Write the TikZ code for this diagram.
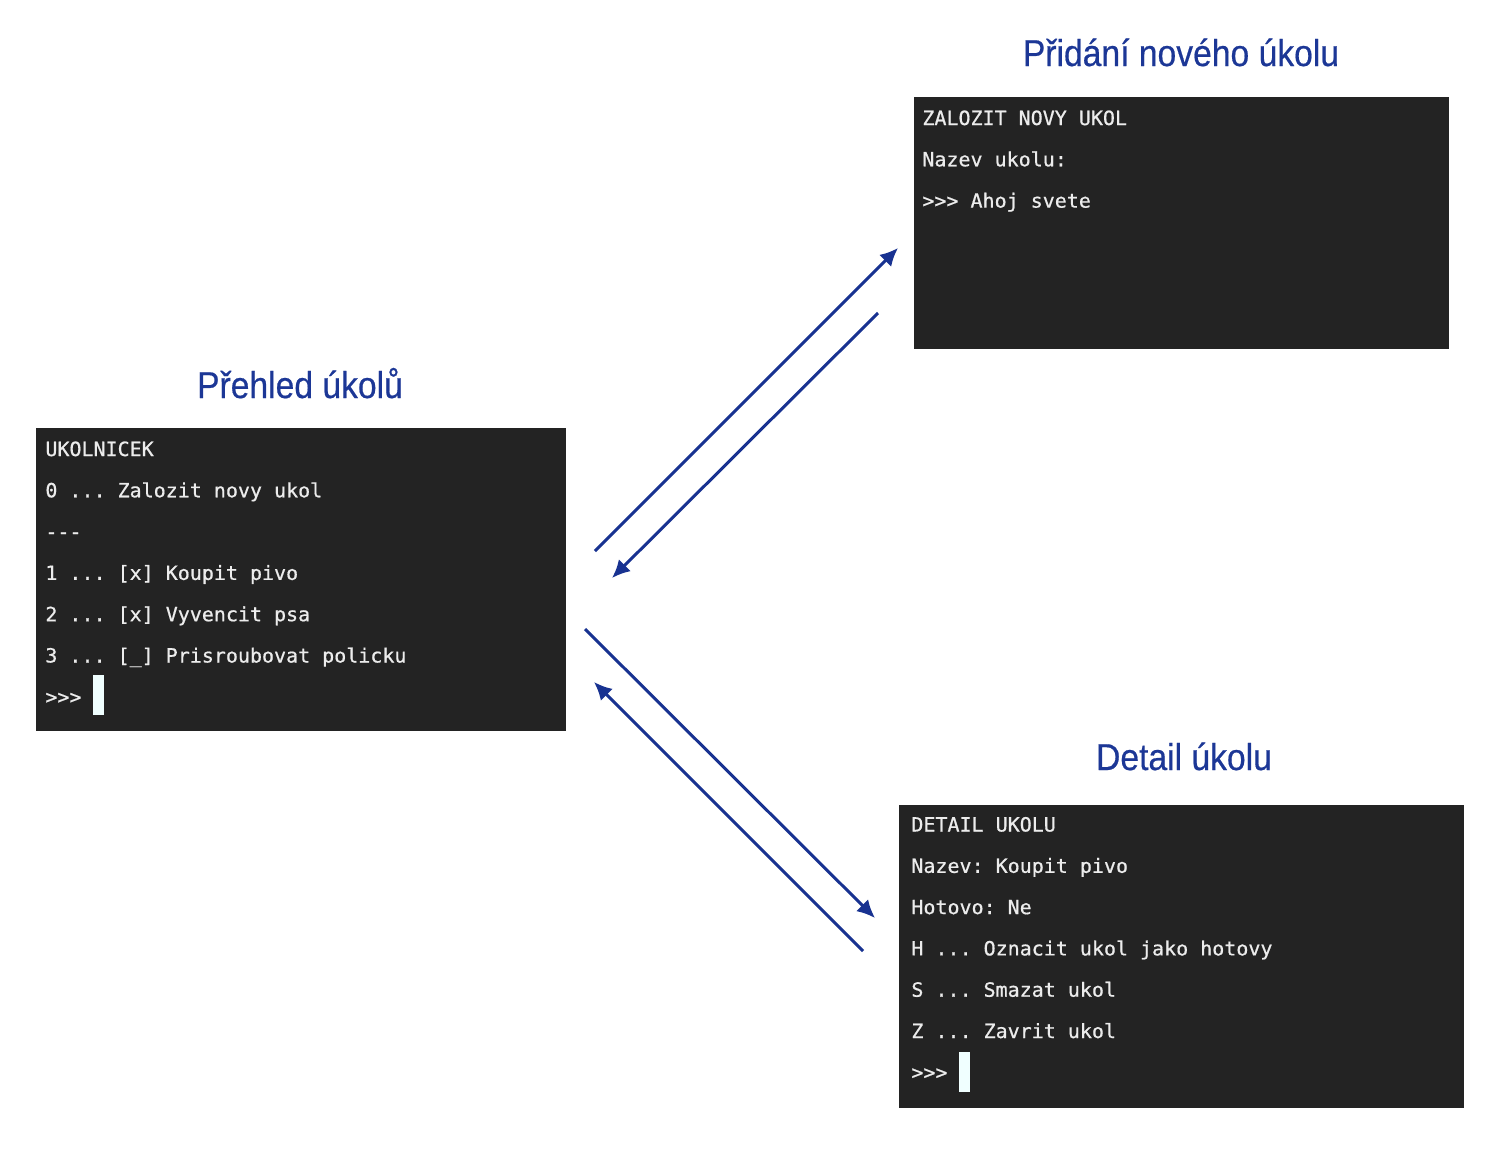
\documentclass[tikz,border=0pt]{standalone}
\usepackage{fontspec}
\usetikzlibrary{arrows.meta}
\newfontfamily\titlefont[FakeStretch=0.9,FakeBold=0.5]{Liberation Sans}
\newfontfamily\termfont[FakeStretch=1.02,FakeBold=0.7]{DejaVu Sans Mono}
\definecolor{titleblue}{RGB}{28,55,150}
\definecolor{arrowblue}{RGB}{24,50,145}
\definecolor{termbg}{RGB}{35,35,35}
\definecolor{termfg}{RGB}{236,236,236}
\definecolor{cursorcol}{RGB}{240,255,255}
\tikzset{
  termbox/.style={fill=termbg, draw=none, inner sep=0pt},
  termtext/.style={anchor=base west, inner sep=0pt, text=termfg, font=\termfont\fontsize{9.8pt}{11pt}\selectfont\frenchspacing},
  title/.style={anchor=base, inner sep=0pt, text=titleblue, font=\titlefont\fontsize{18.7pt}{22pt}\selectfont},
  cursorbox/.style={fill=cursorcol, draw=none, inner sep=0pt, minimum width=5.5pt, minimum height=20pt},
  arr/.style={draw=arrowblue, line width=1.5pt, -{Latex[length=9pt,width=8.5pt]}}
}
\begin{document}
\begin{tikzpicture}[x=0.5pt,y=-0.5pt]
\useasboundingbox (0,0) rectangle (1504,1148);
% terminal boxes
\node[termbox, minimum width=265pt, minimum height=151.5pt] (box1) at (301,579.5) {};
\node[termbox, minimum width=267.5pt, minimum height=126pt] (box2) at (1181.5,223) {};
\node[termbox, minimum width=282.5pt, minimum height=151.5pt] (box3) at (1181.5,956.5) {};
% titles
\node[title] (t1) at (300,398) {Přehled úkolů};
\node[title] (t2) at (1181,66) {Přidání nového úkolu};
\node[title] (t3) at (1184,770) {Detail úkolu};
% box 1 text
\node[termtext] (b1l1) at (45,456) {UKOLNICEK};
\node[termtext] (b1l2) at (45,497.3) {0 ... Zalozit novy ukol};
\node[termtext] (b1l3) at (45,538.6) {-{}-{}-};
\node[termtext] (b1l4) at (45,579.9) {1 ... [x] Koupit pivo};
\node[termtext] (b1l5) at (45,621.2) {2 ... [x] Vyvencit psa};
\node[termtext] (b1l6) at (45,662.5) {3 ... [\_] Prisroubovat policku};
\node[termtext] (b1l7) at (45,703.8) {>{}>{}>};
\node[cursorbox] (cur1) at (98.5,695) {};
% box 2 text
\node[termtext] (b2l1) at (922,125) {ZALOZIT NOVY UKOL};
\node[termtext] (b2l2) at (922,166.3) {Nazev ukolu:};
\node[termtext] (b2l3) at (922,207.6) {>{}>{}> Ahoj svete};
% box 3 text
\node[termtext] (b3l1) at (911,831.5) {DETAIL UKOLU};
\node[termtext] (b3l2) at (911,872.8) {Nazev: Koupit pivo};
\node[termtext] (b3l3) at (911,914.1) {Hotovo: Ne};
\node[termtext] (b3l4) at (911,955.4) {H ... Oznacit ukol jako hotovy};
\node[termtext] (b3l5) at (911,996.7) {S ... Smazat ukol};
\node[termtext] (b3l6) at (911,1038) {Z ... Zavrit ukol};
\node[termtext] (b3l7) at (911,1079.3) {>{}>{}>};
\node[cursorbox] (cur3) at (964.5,1071.5) {};
% arrow end points
\coordinate (a1s) at (595,551);
\coordinate (a1e) at (898,248);
\coordinate (a2s) at (878,313);
\coordinate (a2e) at (612,578);
\coordinate (a3s) at (585,629);
\coordinate (a3e) at (875,918);
\coordinate (a4s) at (863,951);
\coordinate (a4e) at (594,682);
\draw[arr] (a1s) -- (a1e);
\draw[arr] (a2s) -- (a2e);
\draw[arr] (a3s) -- (a3e);
\draw[arr] (a4s) -- (a4e);
\end{tikzpicture}
\end{document}
